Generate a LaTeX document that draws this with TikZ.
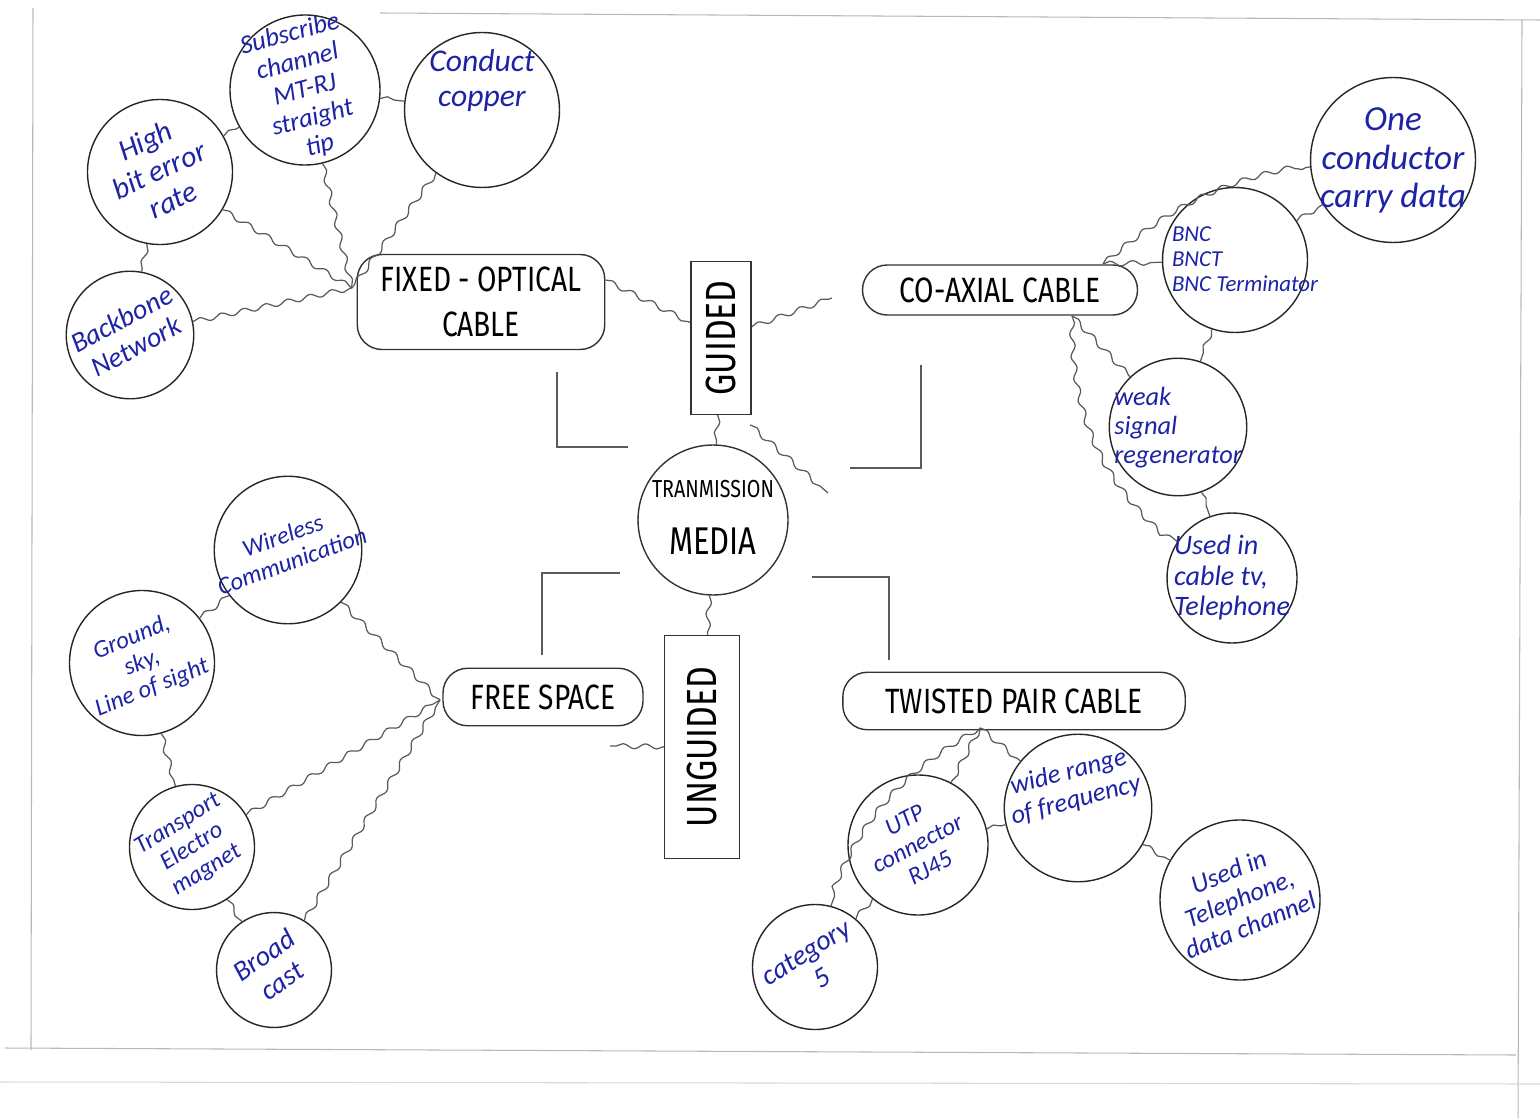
\documentclass[tikz,border=0pt]{standalone}
\usepackage{fontspec}
\setmainfont{Fira Sans}
\newfontfamily\capsfont[FakeStretch=0.8]{Fira Sans}
\newfontfamily\handfont{Carlito}
\usetikzlibrary{positioning,decorations.pathmorphing}
\definecolor{ink}{RGB}{28,36,165}
\definecolor{pencil}{RGB}{90,90,90}
\renewcommand{\arraystretch}{1.1}
\newcommand{\inside}[2][@{}c@{}]{\smash{\raisebox{-.3em}{\makebox[0pt]{\begin{tabular}{#1}#2\end{tabular}}}}}

\begin{document}
\begin{tikzpicture}[x=0.02cm,y=-0.02cm,
  hub/.style={circle,draw=black!80,line width=0.8pt,inner sep=0pt,minimum size=3cm},
  cat/.style={draw=black!80,line width=0.8pt,rounded corners=14pt,inner sep=0pt,
    align=center,font=\capsfont\fontsize{20}{26}\selectfont},
  kind/.style={draw=black!80,line width=0.8pt,inner sep=0pt,rotate=90,
    font=\capsfont\fontsize{24}{26}\selectfont},
  leaf/.style={circle,draw=black!85,line width=0.8pt,inner sep=0pt,text=ink,
    font=\handfont\itshape\fontsize{#1}{#1}\selectfont},
  leaf/.default=15,
  wavy/.style={draw=pencil,line width=0.7pt,decorate,
    decoration={snake,amplitude=0.5mm,segment length=4.5mm}},
  bracket/.style={draw=pencil,line width=0.6pt},
  frame/.style={draw=gray!55,line width=0.6pt}
]
\fill[white] (0,0) rectangle (1540,1118);
\useasboundingbox (0,0) rectangle (1540,1118);

% paper edges
\draw[frame] (33,8) -- (31,1050);
\draw[frame] (380,13) -- (1540,20);
\draw[frame] (1522,20) -- (1518,1118);
\draw[frame] (5,1048) -- (1516,1055);
\draw[frame,gray!30] (0,1082) -- (1540,1084);

% centre and the two kinds
\node[hub] (media) at (713,520)
  {\inside{{\capsfont\fontsize{14}{16}\selectfont TRANMISSION}\\[13pt]{\capsfont\fontsize{22}{24}\selectfont MEDIA}}};
\node[kind,minimum width=3.05cm,minimum height=1.2cm] (guided) at (721,338) {GUIDED};
\node[kind,minimum width=4.45cm,minimum height=1.5cm] (unguided) at (702,747) {UNGUIDED};

% media types
\node[cat,minimum width=4.95cm,minimum height=1.9cm] (fixed) at (481,302) {FIXED - OPTICAL\\CABLE};
\node[cat,minimum width=5.5cm,minimum height=1cm] (coax) at (1000,290) {CO-AXIAL CABLE};
\node[cat,minimum width=4cm,minimum height=1.15cm] (free) at (543,697) {FREE SPACE};
\node[cat,minimum width=6.85cm,minimum height=1.15cm] (twisted) at (1014,701) {TWISTED PAIR CABLE};

% fixed optical cable
\node[leaf=17,minimum size=2.9cm,rotate=25] (high) at (160,172) {\inside{High\\bit error\\rate}};
\node[leaf=15,minimum size=3cm,rotate=15] (subscribe) at (305,90)
  {\inside{Subscribe\\channel\\MT-RJ\\straight\\tip}};
\node[leaf=18,minimum size=3.1cm] (conduct) at (482,110) {\inside{Conduct\\copper\\[1.2cm]}};
\node[leaf=16,minimum size=2.55cm,rotate=28] (backbone) at (130,335) {\inside{Backbone\\Network}};

% co-axial cable
\node[leaf=20,minimum size=3.3cm] (onecond) at (1393,160) {\inside{One\\conductor\\carry data}};
\node[leaf=13,minimum size=2.9cm] (bnc) at (1235,260)
  {\inside[@{\hspace{4mm}}l@{}]{BNC\\BNCT\\BNC Terminator}};
\node[leaf=15,minimum size=2.75cm] (weak) at (1178,427) {\inside[@{}l@{}]{weak\\signal\\regenerator}};
\node[leaf=16,minimum size=2.6cm] (usedtv) at (1232,578) {\inside[@{}l@{}]{Used in\\cable tv,\\Telephone}};

% free space
\node[leaf=14,minimum size=2.95cm,rotate=20] (wireless) at (288,550) {\inside{Wireless\\Communication}};
\node[leaf=14,minimum size=2.9cm,rotate=22] (ground) at (142,663) {\inside{Ground,\\sky,\\Line of sight}};
\node[leaf=14,minimum size=2.5cm,rotate=32] (transport) at (192,847) {\inside{Transport\\Electro\\magnet}};
\node[leaf=16,minimum size=2.3cm,rotate=35] (broadcast) at (274,970) {\inside{Broad\\cast}};

% twisted pair cable
\node[leaf=14,minimum size=2.8cm,rotate=28] (utp) at (918,845) {\inside{UTP\\connector\\RJ45}};
\node[leaf=15,minimum size=2.95cm,rotate=15] (widerange) at (1078,808)
  {\inside{wide range\\of frequency\\[0.9cm]}};
\node[leaf=15,minimum size=3.2cm,rotate=22] (usedtel) at (1240,900)
  {\inside{Used in\\Telephone,\\data channel}};
\node[leaf=16,minimum size=2.5cm,rotate=32] (category) at (815,967) {\inside{category\\5}};

% junctions and loose ends
\coordinate (fjunc) at (352,288);
\coordinate (cjunc) at (1103,264);
\coordinate (cjunc2) at (1072,316);
\coordinate (fsjunc) at (440,700);
\coordinate (tjunc) at (980,728);
\coordinate (gright) at (832,298);
\coordinate (ghead) at (750,425);
\coordinate (gtail) at (828,493);
\coordinate (uleft) at (610,746);

% centre links
\draw[wavy] (fixed.10) -- (guided);
\draw[wavy] (guided) -- (gright);
\draw[wavy] (guided) -- (media);
\draw[wavy] (ghead) -- (gtail);
\draw[wavy] (media) -- (unguided);
\draw[wavy] (unguided) -- (uleft);

% fixed optical links
\draw[wavy] (high) -- (fjunc);
\draw[wavy] (subscribe) -- (fjunc);
\draw[wavy] (conduct) -- (fjunc);
\draw[wavy] (backbone) -- (fjunc);
\draw[wavy] (high) -- (subscribe);
\draw[wavy] (high) -- (backbone);
\draw[wavy] (subscribe) -- (conduct);

% co-axial links
\draw[wavy] (cjunc) to[bend left=15] (onecond);
\draw[wavy] (cjunc) -- (bnc);
\draw[wavy] (bnc) -- (onecond);
\draw[wavy] (cjunc2) -- (weak);
\draw[wavy] (cjunc2) to[bend right=25] (usedtv);
\draw[wavy] (bnc) -- (weak);
\draw[wavy] (weak) -- (usedtv);

% free space links
\draw[wavy] (wireless) -- (fsjunc);
\draw[wavy] (transport) -- (fsjunc);
\draw[wavy] (broadcast) -- (fsjunc);
\draw[wavy] (ground) -- (wireless);
\draw[wavy] (ground) -- (transport);
\draw[wavy] (transport) -- (broadcast);

% twisted pair links
\draw[wavy] (tjunc) to[bend right=20] (category);
\draw[wavy] (tjunc) -- (utp);
\draw[wavy] (tjunc) -- (widerange);
\draw[wavy] (utp) -- (widerange);
\draw[wavy] (widerange) -- (usedtel);
\draw[wavy] (utp) -- (category);

% brackets round the centre
\coordinate (b1a) at (557,372); \coordinate (b1b) at (628,447);
\coordinate (b2a) at (921,365); \coordinate (b2b) at (850,468);
\coordinate (b3a) at (542,655); \coordinate (b3b) at (620,573);
\coordinate (b4a) at (889,660); \coordinate (b4b) at (812,577);
\draw[bracket] (b1a) |- (b1b);
\draw[bracket] (b2a) |- (b2b);
\draw[bracket] (b3a) |- (b3b);
\draw[bracket] (b4a) |- (b4b);
\end{tikzpicture}
\end{document}
